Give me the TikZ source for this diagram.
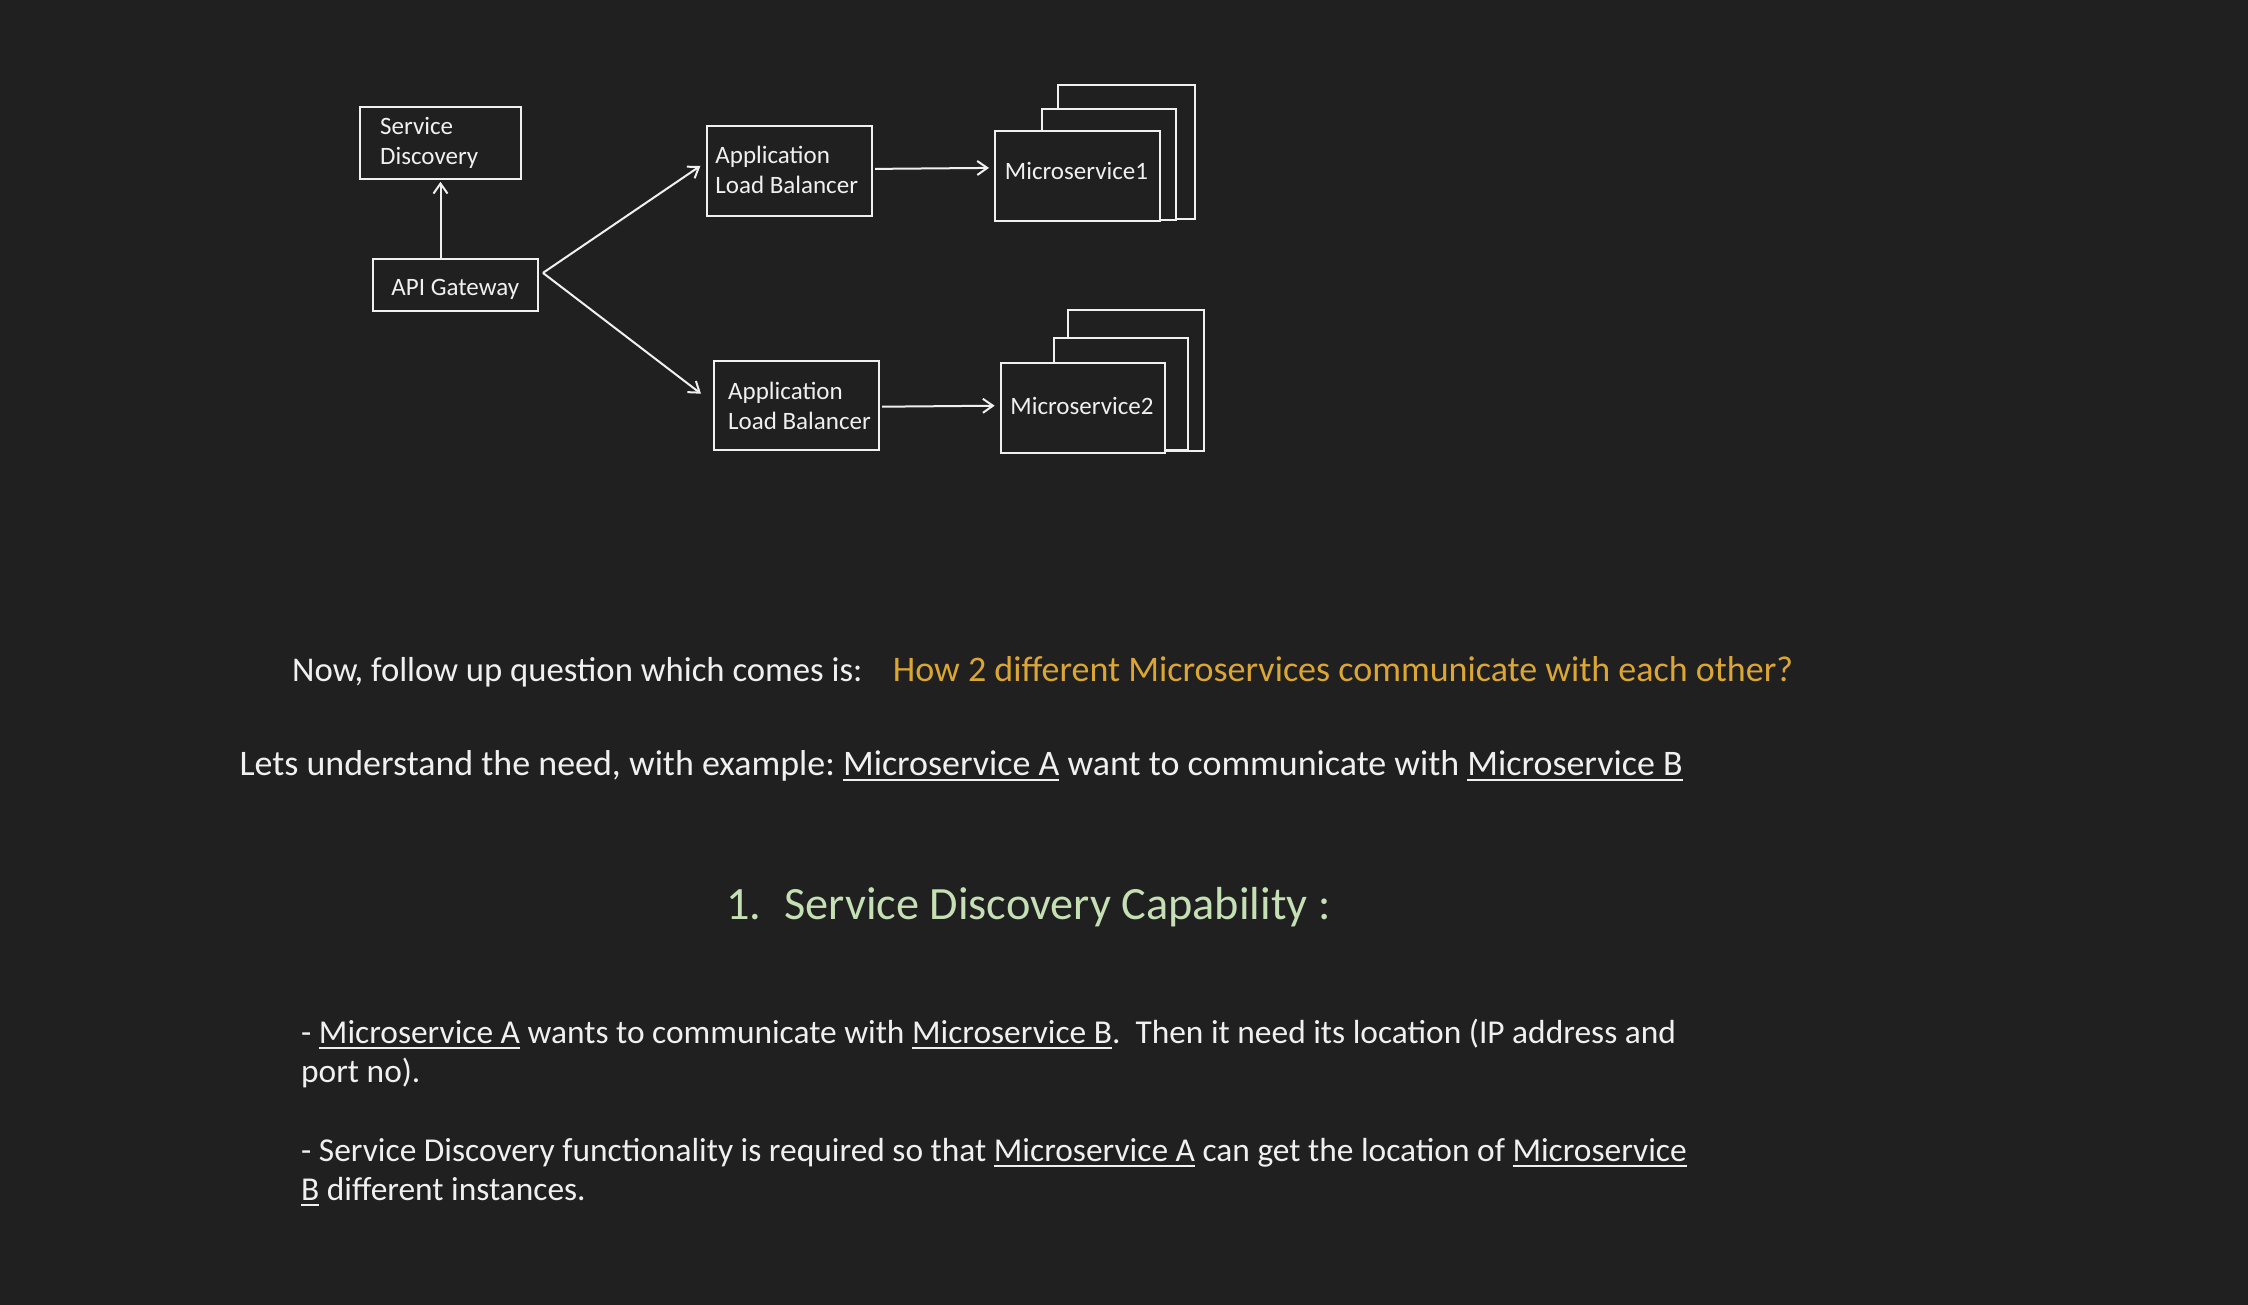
\documentclass[tikz,border=0pt]{standalone}
\usepackage{fontspec}
\setmainfont{Carlito}
\usetikzlibrary{arrows.meta,calc}
\definecolor{bg}{HTML}{202020}
\definecolor{fg}{HTML}{F0F0F0}
\definecolor{qyellow}{HTML}{DBA633}
\definecolor{hgreen}{HTML}{C5E0B4}
\newcommand\myul[1]{\setbox0\hbox{#1}\rlap{\rule[-6pt]{\wd0}{1.8pt}}\box0\relax}
\frenchspacing
\begin{document}
\begin{tikzpicture}[x=1pt,y=-1pt,
  box/.style={draw=fg, line width=2pt, fill=bg, inner sep=0pt},
  lbl/.style={inner sep=0pt, text=fg, font=\fontsize{25}{30}\selectfont, align=left},
  arr/.style={draw=fg, line width=2pt, -{Straight Barb[length=10pt,width=14pt]}},
  txt/.style={inner sep=0pt, anchor=base west, text=fg, font=\fontsize{35.95}{42}\selectfont},
  btxt/.style={inner sep=0pt, anchor=base west, text=fg, font=\fontsize{33.4}{39}\selectfont},
  htxt/.style={inner sep=0pt, anchor=base west, text=hgreen, font=\fontsize{46.3}{52}\selectfont}]
\useasboundingbox (0,0) rectangle (2248,1304);
\fill[bg] (-6,-6) rectangle (2254,1310);
% boxes
\node[box, minimum width=161pt, minimum height=72.6pt] (sd) at (440.5,143) {};
\node[lbl, anchor=west] (sdl) at ($(sd.west)+(21,0)$) {Service\\Discovery};
\node[box, minimum width=165.3pt, minimum height=51.7pt] (api) at (455.3,284.9) {};
\node[lbl] (apil) at ($(api)+(0,4)$) {API Gateway};
\node[box, minimum width=164.6pt, minimum height=89.7pt] (alb1) at (789.7,170.9) {};
\node[lbl] (alb1l) at ($(alb1)+(-3,-1)$) {Application\\Load Balancer};
\node[box, minimum width=165pt, minimum height=89.3pt] (alb2) at (796.5,405.7) {};
\node[lbl] (alb2l) at ($(alb2)+(3,0)$) {Application\\Load Balancer};
% microservice 1 stack
\node[box, minimum width=137.2pt, minimum height=134pt] (ms1c) at (1126.1,152) {};
\node[box, minimum width=134.8pt, minimum height=110.7pt] (ms1b) at (1108.9,164.65) {};
\node[box, minimum width=165pt, minimum height=89.7pt] (ms1) at (1077.5,175.9) {};
\node[lbl] (ms1l) at ($(ms1)+(-1,-5)$) {Microservice1};
% microservice 2 stack
\node[box, minimum width=136.1pt, minimum height=140.7pt] (ms2c) at (1135.85,380.35) {};
\node[box, minimum width=133.8pt, minimum height=111.7pt] (ms2b) at (1120.9,394.15) {};
\node[box, minimum width=164.7pt, minimum height=89.4pt] (ms2) at (1083,408) {};
\node[lbl] (ms2l) at ($(ms2)+(-1,-2)$) {Microservice2};
% connectors
\coordinate (gw) at ($(api.east)+(4,-12)$);
\draw[arr] (gw) -- ($(alb1.west)+(-6,-5)$);
\draw[arr] (gw) -- ($(alb2.west)+(-12,-12)$);
\draw[arr] (sd.south |- api.north) -- ($(sd.south)+(0,1.5)$);
\draw[arr] ($(alb1.east)+(2,-2)$) -- ($(alb1.east -| ms1.west)+(-5,-3)$);
\draw[arr] ($(alb2.east)+(2,1)$) -- ($(alb2.east -| ms2.west)+(-5,0)$);
% text
\node[txt, font=\fontsize{34.7}{42}\selectfont] (q1) at (292,681.7) {Now, follow up question which comes is:};
\node[txt, text=qyellow, font=\fontsize{36}{42}\selectfont] (q2) at (892.7,681.7) {How 2 different Microservices communicate with each other?};
\node[txt] (l2) at (239.4,775) {Lets understand the need, with example: \myul{Microservice A} want to communicate with \myul{Microservice B}};
\node[htxt] (h1) at (726,919) {1.};
\node[htxt] (h2) at (784,919) {Service Discovery Capability :};
\node[btxt] (b1a) at (301,1043) {- \myul{Microservice A} wants to communicate with \myul{Microservice B}.\ \ Then it need its location (IP address and};
\node[btxt] (b1b) at (301,1082) {port no).};
\node[btxt] (b2a) at (301,1161) {- Service Discovery functionality is required so that \myul{Microservice A} can get the location of \myul{Microservice}};
\node[btxt] (b2b) at (301,1200) {\myul{B} different instances.};
\end{tikzpicture}
\end{document}
